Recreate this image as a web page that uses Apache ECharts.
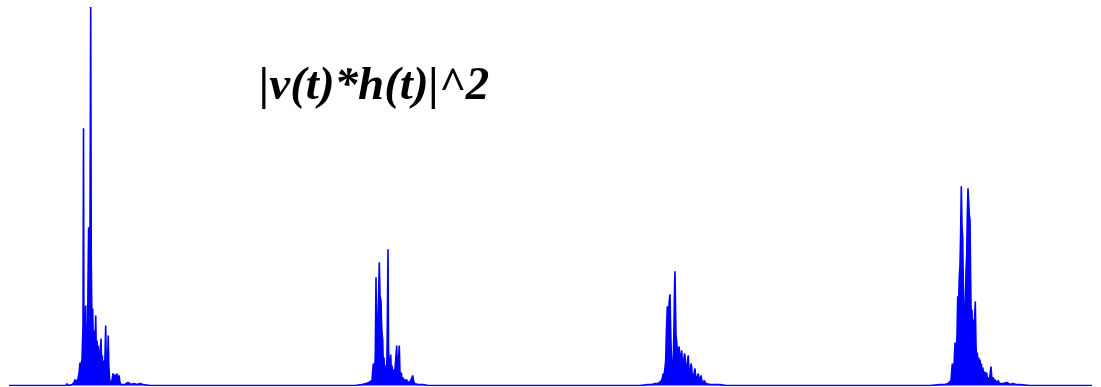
<!DOCTYPE html>
<html>
<head>
<meta charset="utf-8">
<script src="https://cdn.jsdelivr.net/npm/echarts@6/dist/echarts.min.js"></script>
<style>
  html, body { margin: 0; padding: 0; background: #fff; }
  #chart { width: 1101px; height: 387px; }
</style>
</head>
<body>
<div id="chart"></div>
<script>
// sample time (arbitrary units) and |v(t)*h(t)|^2 (arbitrary units, peak ~378)
const tStart = 9
const tEnd = 1092

const echo1 = [
  [60, 0], [66, 0], [67, 2], [68, 0], [72, 1], [74, 3], [75, 6], [76, 2], [77, 5], [78, 7], [79, 12],
  [80, 23], [81, 20], [82, 26], [83, 60], [83.5, 257], [84, 30], [84.5, 25], [85, 45], [85.7, 80],
  [86.3, 35], [87, 60], [87.5, 40], [88, 100], [88.6, 158], [89.3, 150], [90, 158], [90.7, 378],
  [91.3, 120], [92, 60], [92.7, 77], [93.3, 40], [94, 55], [94.6, 30], [95.2, 50], [95.7, 70],
  [96.3, 35], [97, 45], [97.6, 25], [98.2, 40], [99, 30], [99.6, 20], [100.3, 35], [101, 47],
  [101.7, 20], [102.3, 30], [103, 15], [103.6, 25], [104.3, 10], [105, 30], [105.7, 60], [106.3, 20],
  [107, 15], [107.6, 25], [108.2, 50], [108.8, 20], [109.5, 8], [110, 3], [111, 2], [112, 5],
  [113, 12], [114, 6], [115, 11], [116, 4], [117, 12], [118, 7], [119, 10], [120, 3], [121, 1],
  [123, 2], [125, 1], [128, 3], [130, 4], [131, 1], [134, 2], [137, 1], [140, 2], [143, 1], [150, 0]
]

const echo2 = [
  [355, 0], [362, 1], [366, 2], [369, 3], [371, 4], [372, 5], [373.3, 22], [374, 12], [374.7, 18],
  [375.3, 30], [376, 108], [376.6, 50], [377.3, 40], [378, 70], [378.6, 90], [379.3, 123], [380, 90],
  [381, 84], [381.6, 60], [382.2, 50], [382.7, 46], [383.3, 20], [384, 28], [384.6, 15], [385.2, 13],
  [385.8, 20], [386.4, 10], [387, 30], [387.6, 90], [388, 136], [388.5, 40], [389, 20], [389.6, 28],
  [390.2, 18], [390.7, 31], [391.3, 15], [392, 20], [392.6, 10], [393.3, 16], [394, 8], [394.7, 14],
  [395.3, 20], [396, 30], [396.7, 40], [397.3, 15], [398, 20], [398.7, 30], [399.3, 40], [400, 12],
  [400.7, 8], [401.4, 13], [402, 5], [403, 8], [404, 4], [405, 6], [406, 3], [406.7, 6], [407.5, 2],
  [408.5, 4], [409.5, 2], [410.5, 5], [411.5, 7], [412.7, 10], [413.5, 5], [414.5, 2], [416, 3],
  [418, 1], [420, 2], [423, 1], [428, 0]
]

const echo3 = [
  [640, 0], [648, 1], [652, 1], [655, 2], [658, 2], [660, 3], [661.5, 5], [662.5, 8], [663.3, 12],
  [664, 9], [665, 18], [665.7, 25], [666.3, 50], [667.3, 79], [668, 70], [668.6, 75], [669.3, 85],
  [670, 91], [670.6, 60], [671.2, 35], [671.7, 25], [672.3, 12], [672.8, 4], [673.4, 30], [674, 60],
  [674.6, 100], [675, 114], [675.5, 80], [676, 50], [676.7, 44], [677.3, 35], [678, 30], [678.6, 36],
  [679.2, 39], [679.8, 28], [680.5, 20], [681.1, 30], [681.7, 35], [682.4, 22], [683, 15], [683.7, 25],
  [684.4, 32], [685, 30], [685.7, 18], [686.3, 12], [687, 20], [687.7, 26], [688.3, 30], [689, 15],
  [689.7, 10], [690.4, 16], [691.1, 22], [691.7, 18], [692.4, 8], [693, 10], [694, 12], [695, 17],
  [695.7, 8], [696.5, 5], [697.3, 9], [698.3, 12], [699, 5], [700, 7], [701, 10], [702, 4], [703, 2],
  [704, 5], [705, 4], [706, 2], [708, 3], [710, 1], [712, 2], [715, 1], [720, 1], [726, 0]
]

const echo4 = [
  [930, 0], [940, 1], [945, 1], [948, 2], [950, 2], [951, 5], [952.3, 22], [953, 8], [954, 20],
  [955, 43], [955.6, 25], [956.3, 35], [957, 50], [957.7, 89], [958.3, 70], [959.3, 109], [960, 120],
  [960.6, 150], [961.3, 199], [962, 160], [962.7, 148], [963.3, 100], [964, 73], [964.5, 40], [965, 60],
  [965.5, 90], [966, 114], [966.7, 130], [967.3, 170], [968, 197], [968.6, 185], [969.3, 170],
  [970, 166], [970.6, 110], [971.3, 60], [972, 76], [972.6, 50], [973.3, 66], [974, 45], [974.7, 70],
  [975.3, 84], [976, 40], [976.7, 25], [977.3, 33], [978, 20], [978.7, 28], [979.4, 18], [980, 26],
  [980.7, 15], [981.4, 22], [982, 12], [982.7, 18], [983.3, 19], [984, 10], [984.7, 14], [985.4, 8],
  [986, 11], [986.7, 13], [987.4, 6], [988, 8], [989, 5], [990, 10], [990.5, 15], [991, 19],
  [991.6, 10], [992.3, 5], [993.3, 8], [994, 4], [995, 6], [996, 3], [997, 4], [998.3, 5], [999.3, 2],
  [1001, 3], [1003, 2], [1005, 3], [1007, 3], [1010, 1], [1013, 2], [1016, 1], [1020, 1], [1030, 0]
]

const signal = [[tStart, 0]].concat(echo1, echo2, echo3, echo4, [[tEnd, 0]])

const chart = echarts.init(document.getElementById('chart'))
chart.setOption({
  animation: false,
  title: {
    text: '|v(t)*h(t)|^2',
    left: 254,
    top: 58,
    textStyle: {
      fontFamily: 'Liberation Serif',
      fontStyle: 'italic',
      fontWeight: 'bold',
      fontSize: 47,
      color: '#000'
    }
  },
  grid: {
    left: 9,
    right: 9,
    top: 7,
    bottom: 1.5
  },
  xAxis: {
    type: 'value',
    min: tStart,
    max: tEnd,
    show: false
  },
  yAxis: {
    type: 'value',
    min: 0,
    max: 378,
    show: false
  },
  series: [
    {
      type: 'line',
      data: signal,
      symbol: 'none',
      lineStyle: { color: '#0000ff', width: 1.6 },
      areaStyle: { color: '#0000ff', opacity: 1 },
      silent: true
    }
  ]
})
</script>
</body>
</html>
